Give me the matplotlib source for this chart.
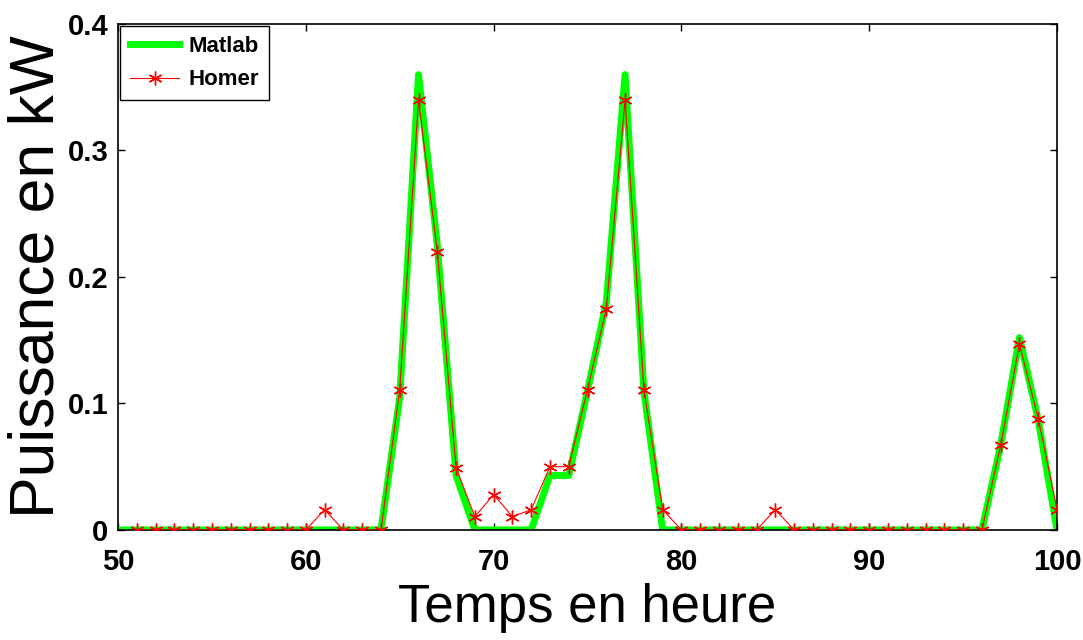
import matplotlib
matplotlib.use("Agg")
import matplotlib.pyplot as plt

# ---- data ----
hours_matlab = list(range(50, 101))
matlab = [0]*15 + [0.105, 0.36, 0.225, 0.043, 0, 0, 0, 0, 0.043, 0.043,
                   0.11, 0.18, 0.36, 0.11, 0] + [0]*17 + [0.067, 0.152, 0.087, 0]

hours_homer = list(range(51, 101))
homer = [0]*10 + [0.016, 0, 0, 0, 0.111, 0.34, 0.22, 0.049, 0.0105, 0.028,
                  0.0105, 0.016, 0.05, 0.05, 0.111, 0.175, 0.34, 0.111, 0.016,
                  0, 0, 0, 0, 0, 0.016] + [0]*11 + [0.067, 0.147, 0.088, 0.016]

xticks = [50, 60, 70, 80, 90, 100]
yticks = [0, 0.1, 0.2, 0.3, 0.4]
ytick_labels = ["0", "0.1", "0.2", "0.3", "0.4"]

plt.rcParams['font.family'] = ['Liberation Sans', 'DejaVu Sans']

fig = plt.figure(figsize=(10.83, 6.4), dpi=100)
ax = fig.add_axes([0.109, 0.172, 0.867, 0.7905])

ax.plot(hours_matlab, matlab, color='#00ff00', lw=5, solid_joinstyle='round',
        label='Matlab', zorder=2)
ax.plot(hours_homer, homer, color='red', lw=0.8, marker=(6, 2, 0), ms=10,
        mew=1.0, label='Homer', zorder=3)

ax.set_xlim(50, 100)
ax.set_ylim(0, 0.4)
ax.set_xticks(xticks)
ax.set_yticks(yticks)
ax.set_yticklabels(ytick_labels)
ax.tick_params(direction='in', length=5, width=1, top=True, right=True,
               labelsize=21)
ax.tick_params(axis='x', pad=13)
ax.tick_params(axis='y', pad=7)
for lab in ax.get_xticklabels() + ax.get_yticklabels():
    lab.set_fontweight('bold')
for s in ax.spines.values():
    s.set_linewidth(1.2)

ax.set_xlabel('Temps en heure', fontsize=38, labelpad=5)
ax.set_ylabel('Puissance en kW', fontsize=45, labelpad=1)

leg = ax.legend(loc='upper left', prop={'size': 16, 'weight': 'bold'},
                fancybox=False, edgecolor='black', framealpha=1,
                borderaxespad=0.1, handlelength=2.2, handletextpad=0.4,
                borderpad=0.45, labelspacing=0.55)
leg.get_frame().set_linewidth(1.0)

fig.savefig('out.png', dpi=100)
